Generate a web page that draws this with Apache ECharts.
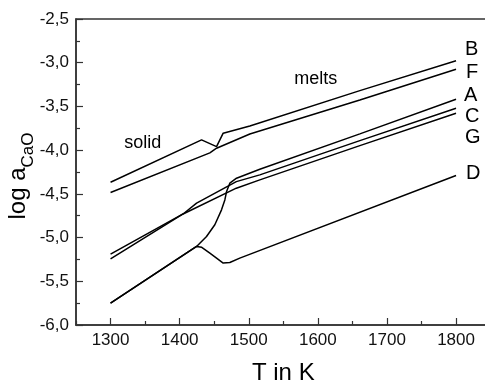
<!DOCTYPE html>
<html>
<head>
<meta charset="utf-8">
<script src="https://cdn.jsdelivr.net/npm/echarts@6/dist/echarts.min.js"></script>
<style>html,body{margin:0;padding:0;background:#fff}#c{width:485px;height:384px}</style>
</head>
<body>
<div id="c"></div>
<script>
// ---- data (T in K, log a_CaO) ----
const tB = [1300, 1431.7, 1453.4, 1463, 1501.6, 1660.8, 1800];
const vB = [-4.367, -3.883, -3.960, -3.806, -3.723, -3.319, -2.977];
const tF = [1300, 1443.7, 1453.4, 1501.6, 1660.8, 1800];
const vF = [-4.485, -4.031, -3.978, -3.815, -3.426, -3.075];
const tA = [1300, 1424.5, 1438.9, 1450.9, 1460.6, 1465.4, 1467.9, 1472.6, 1482.3, 1516, 1660.8, 1800];
const vA = [-5.749, -5.102, -4.988, -4.854, -4.683, -4.569, -4.474, -4.378, -4.321, -4.218, -3.814, -3.418];
const tC = [1300, 1405, 1424.5, 1482, 1516, 1660.8, 1800];
const vC = [-5.189, -4.73, -4.606, -4.36, -4.283, -3.891, -3.521];
const tG = [1300, 1405, 1482, 1516, 1660.8, 1800];
const vG = [-5.243, -4.73, -4.435, -4.34, -3.948, -3.578];
const tD = [1300, 1424.5, 1432, 1443.7, 1453.4, 1463, 1472.6, 1487, 1800];
const vD = [-5.749, -5.102, -5.112, -5.178, -5.235, -5.292, -5.285, -5.235, -4.29];
const xMajorTicks = [1300, 1400, 1500, 1600, 1700, 1800];
const xMinorTicks = [1250, 1350, 1450, 1550, 1650, 1750];
const curveNames = ['B', 'F', 'A', 'C', 'G', 'D'];

const FONT = 'Liberation Sans, Arial, sans-serif';
const pairs = (t, v) => t.map((x, i) => [x, v[i]]);
const curves = [[tB, vB], [tF, vF], [tA, vA], [tC, vC], [tG, vG], [tD, vD]];
const labelOffsets = [[4, -11], [5, 3], [3, -4], [4, 8], [4, 24.5], [5, -2.5]];

const chart = echarts.init(document.getElementById('c'), null, {renderer: 'canvas'});
const xBase = {
  type: 'value', min: 1250, max: 1850, gridIndex: 0, position: 'bottom',
  splitLine: {show: false}
};
chart.setOption({
  animation: false,
  backgroundColor: '#fff',
  grid: {left: 76, top: 19, width: 414.6, height: 306, containLabel: false, outerBoundsMode: 'none',
    show: true, borderColor: '#333', borderWidth: 1.5, backgroundColor: 'transparent'},
  xAxis: [
    Object.assign({}, xBase, {
      name: 'T in K', nameLocation: 'middle', nameGap: 36, nameMoveOverlap: false,
      nameTextStyle: {fontFamily: FONT, fontSize: 24, color: '#000'},
      axisLine: {show: true, onZero: false, lineStyle: {color: '#333', width: 1.5}},
      axisTick: {show: true, inside: true, length: 7, customValues: xMajorTicks, lineStyle: {color: '#333', width: 1.2}},
      axisLabel: {show: true, customValues: xMajorTicks, margin: 7, fontFamily: FONT, fontSize: 17, color: '#111',
        formatter: v => String(v)}
    }),
    Object.assign({}, xBase, {
      axisLine: {show: false, onZero: false},
      axisTick: {show: true, inside: true, length: 4, customValues: xMinorTicks, lineStyle: {color: '#333', width: 1.2}},
      axisLabel: {show: false}
    })
  ],
  yAxis: {
    type: 'value', min: -6, max: -2.5, interval: 0.5,
    name: '{a|log a}{b|CaO}', nameLocation: 'middle', nameGap: 39, nameRotate: 90, nameMoveOverlap: false,
    nameTextStyle: {
      fontFamily: FONT, color: '#000', padding: [0, 8, 0, 0],
      rich: {
        a: {fontFamily: FONT, fontSize: 24, lineHeight: 31, verticalAlign: 'top', color: '#000'},
        b: {fontFamily: FONT, fontSize: 17, lineHeight: 31, verticalAlign: 'bottom', color: '#000'}
      }
    },
    splitLine: {show: false},
    axisLine: {show: true, onZero: false, lineStyle: {color: '#333', width: 1.5}},
    axisTick: {show: true, inside: true, length: 7, lineStyle: {color: '#333', width: 1.2}},
    minorTick: {show: true, splitNumber: 2, length: 4, lineStyle: {color: '#333', width: 1.2}},
    axisLabel: {margin: 7, fontFamily: FONT, fontSize: 17, color: '#111',
      formatter: v => v.toFixed(1).replace('.', ',')}
  },
  series: curves.map((c, i) => ({
    type: 'line', name: curveNames[i], xAxisIndex: 0,
    data: pairs(c[0], c[1]),
    showSymbol: false, symbol: 'none', smooth: false,
    lineStyle: {color: '#000', width: 1.5},
    endLabel: {show: true, formatter: curveNames[i], fontFamily: FONT, fontSize: 20, color: '#000',
      distance: 5, offset: labelOffsets[i]},
    emphasis: {disabled: true}
  })),
  graphic: [
    {type: 'text', x: 142.8, y: 142.7, style: {text: 'solid', fontFamily: FONT, fontSize: 18, fill: '#000', align: 'center', verticalAlign: 'middle'}},
    {type: 'text', x: 315.8, y: 79, style: {text: 'melts', fontFamily: FONT, fontSize: 18, fill: '#000', align: 'center', verticalAlign: 'middle'}}
  ]
});
</script>
</body>
</html>
